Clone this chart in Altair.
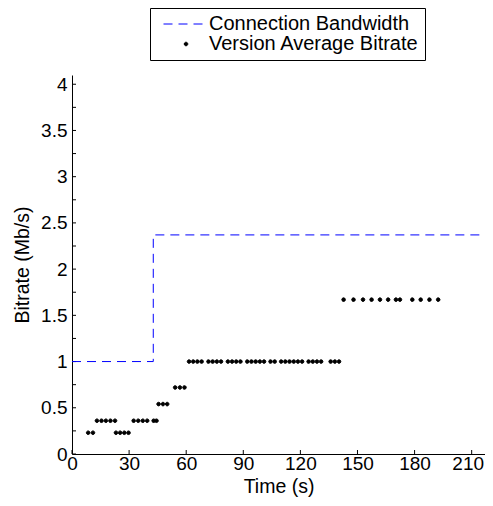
import altair as alt
import pandas as pd

# ---------------- data ----------------
series = ["Connection Bandwidth", "Version Average Bitrate"]

bw_time = [0, 42.7, 42.7, 220]
bw_rate = [1.0, 1.0, 2.37, 2.37]

pt_time = [
    8.5, 11.0,
    13.1, 15.5, 17.8, 20.2, 22.6,
    23.1, 25.3, 27.5, 29.7,
    32.4, 34.8, 37.2, 39.5,
    42.9, 44.4,
    45.5, 47.8, 50.0,
    54.2, 56.7, 59.1,
    61.5, 63.7, 65.9, 68.1,
    71.7, 73.9, 76.1, 78.3,
    81.9, 84.1, 86.3, 88.5,
    92.1, 94.3, 96.5, 98.7, 100.9,
    104.3, 106.5,
    109.9, 112.1, 114.3, 116.5, 118.7, 120.9,
    124.3, 126.5, 128.7, 130.9,
    135.9, 138.1, 140.3,
    142.7, 147.9, 152.9, 157.4, 161.8, 166.1, 170.2, 172.3, 178.8, 183.2, 187.8, 192.4,
]
pt_rate = (
    [0.23] * 2 + [0.36] * 5 + [0.23] * 4 + [0.36] * 4 + [0.36] * 2
    + [0.54] * 3 + [0.72] * 3 + [1.0] * 32 + [1.67] * 12
)

x_ticks = [0, 30, 60, 90, 120, 150, 180, 210]
y_labels = [0, 0.5, 1, 1.5, 2, 2.5, 3, 3.5, 4]
y_minor = [0, 0.25, 0.5, 0.75, 1, 1.25, 1.5, 1.75, 2, 2.25, 2.5, 2.75, 3, 3.25, 3.5, 3.75, 4]

# ---------------- frames ----------------
df_bw = pd.DataFrame({"t": bw_time, "r": bw_rate, "i": list(range(len(bw_time)))})
df_pt = pd.DataFrame({"t": pt_time, "r": pt_rate, "s": series[1]})
df_xt = pd.DataFrame({"t": x_ticks})
df_yt = pd.DataFrame({"r": y_minor})

W, H = 413, 379
FONT = "Liberation Sans"
FS = 19
FS_T = 19.5
FS_L = 20

xs = alt.Scale(domain=[0, 217], nice=False, zero=False)
ys = alt.Scale(domain=[0, 4.1], nice=False, zero=False)

LINE_PATH = "M-4.5,0H4.5"
DOT_PATH = "M-0.36,0A0.36,0.36 0 1,0 0.36,0A0.36,0.36 0 1,0 -0.36,0Z"

leg = alt.Legend(
    title=None, orient="none", legendX=78, legendY=-67,
    padding=6, strokeColor="black", fillColor="white",
    labelFont=FONT, labelFontSize=FS_L, labelColor="black", labelLimit=0,
    labelOffset=13, symbolOffset=20, rowPadding=0,
    symbolSize=100, symbolStrokeWidth=1, symbolOpacity=1,
)

xaxis = alt.Axis(
    values=x_ticks, title="Time (s)", labelPadding=0, titlePadding=4, labelFlush=False,
    labelOffset={"condition": {"test": "datum.value === 210", "value": -4}, "value": 0},
)
yaxis = alt.Axis(values=y_labels, title="Bitrate (Mb/s)", format="~g",
                 labelPadding=5, titlePadding=8, labelFlush=False)

X = lambda: alt.X("t:Q", scale=xs, axis=xaxis)
Y = lambda: alt.Y("r:Q", scale=ys, axis=yaxis)

bw_line = alt.Chart(df_bw).mark_line(
    color="#0000ff", strokeDash=[9, 6], strokeWidth=1
).encode(x=X(), y=Y(), order="i:Q")

points = alt.Chart(df_pt).mark_point(
    filled=True, size=100, opacity=1, strokeWidth=1
).encode(
    x=X(),
    y=Y(),
    fill=alt.Fill("s:N", scale=alt.Scale(domain=series, range=["#0000ff", "#000000"]), legend=leg),
    stroke=alt.Stroke("s:N", scale=alt.Scale(domain=series, range=["#0000ff", "#000000"]), legend=leg),
    shape=alt.Shape("s:N", scale=alt.Scale(domain=series, range=[LINE_PATH, DOT_PATH]), legend=leg),
    strokeDash=alt.StrokeDash("s:N", scale=alt.Scale(domain=series, range=[[9, 6], [1, 0]]), legend=leg),
)

x_tick_marks = alt.Chart(df_xt).mark_rule(color="black", strokeWidth=1).encode(
    x=X(),
    y=alt.value(H),
    y2=alt.value(H - 4),
)

y_tick_marks = alt.Chart(df_yt).mark_rule(color="black", strokeWidth=1).encode(
    y=Y(),
    x=alt.value(0),
    x2=alt.value(4),
)

chart = alt.layer(x_tick_marks, y_tick_marks, bw_line, points).properties(
    width=W, height=H,
    autosize=alt.AutoSizeParams(type="none"),
    padding={"left": 64, "top": 67, "right": 0, "bottom": 44},
).configure_view(stroke=None).configure_axis(
    grid=False, ticks=False, domainColor="black", domainWidth=1,
    labelFont=FONT, labelFontSize=FS, labelColor="black",
    titleFont=FONT, titleFontSize=FS_T, titleColor="black", titleFontWeight="normal",
)

chart.save("out.html", embed_options={"renderer": "svg", "actions": False})
